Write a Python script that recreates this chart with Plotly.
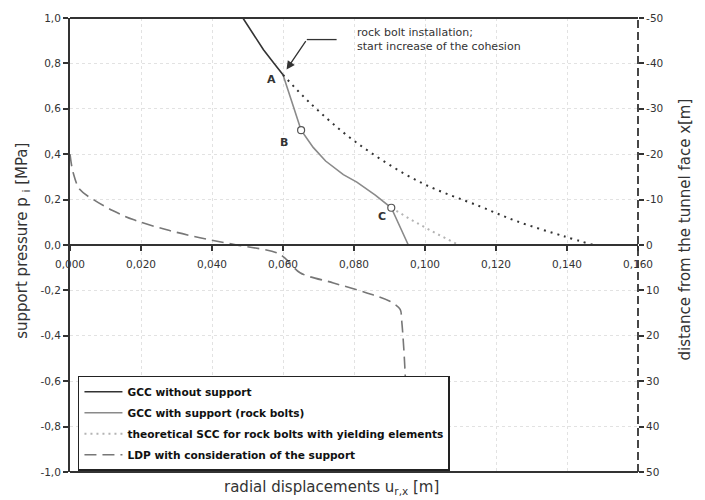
import plotly.graph_objects as go

# ---- data ----
gcc_free_u = [0.0487, 0.0515, 0.0545, 0.0575, 0.0600]
gcc_free_p = [1.00, 0.93, 0.86, 0.80, 0.75]

gcc_free_cont_u = [0.0600, 0.0676, 0.0808, 0.0986, 0.1155, 0.1258, 0.1390, 0.1475]
gcc_free_cont_p = [0.75, 0.626, 0.45, 0.277, 0.17, 0.105, 0.039, 0.0]

gcc_bolt_u = [0.0600, 0.0618, 0.0635, 0.0651, 0.0685, 0.0720, 0.0770, 0.0808, 0.0860, 0.0905, 0.0953]
gcc_bolt_p = [0.75, 0.66, 0.58, 0.506, 0.43, 0.37, 0.31, 0.277, 0.22, 0.164, 0.0]

scc_u = [0.0905, 0.0960, 0.1030, 0.1095]
scc_p = [0.164, 0.112, 0.052, 0.0]

ldp_u = [0.0000, 0.0009, 0.0028, 0.0066, 0.0120, 0.0178, 0.0270, 0.0366, 0.0470, 0.0582,
         0.0610, 0.0648, 0.0742, 0.0836, 0.0901, 0.0930, 0.0934, 0.0944, 0.0952]
ldp_x = [-20.0, -15.9, -12.2, -10.0, -7.6, -5.6, -3.4, -1.6, 0.0, 1.7,
         3.2, 6.1, 8.35, 10.55, 12.4, 14.2, 16.4, 28.2, 50.0]

pts_u = [0.0651, 0.0905]
pts_p = [0.506, 0.164]
pt_labels = ["A", "B", "C"]
pt_label_u = [0.0568, 0.0603, 0.0878]
pt_label_p = [0.729, 0.450, 0.124]

x_ticks = [0.0, 0.02, 0.04, 0.06, 0.08, 0.10, 0.12, 0.14, 0.16]
x_ticktext = ["0,000", "0,020", "0,040", "0,060", "0,080", "0,100", "0,120", "0,140", "0,160"]
y_ticks = [1.0, 0.8, 0.6, 0.4, 0.2, 0.0, -0.2, -0.4, -0.6, -0.8, -1.0]
y_ticktext = ["1,0", "0,8", "0,6", "0,4", "0,2", "0,0", "-0,2", "-0,4", "-0,6", "-0,8", "-1,0"]
y2_ticks = [-50, -40, -30, -20, -10, 0, 10, 20, 30, 40, 50]
y2_ticktext = ["-50", "-40", "-30", "-20", "-10", "0", "10", "20", "30", "40", "50"]

FONT = "DejaVu Sans"
DARK = "#333333"
GRID = "#e2e2e2"

fig = go.Figure()

fig.add_trace(go.Scatter(x=gcc_free_u, y=gcc_free_p, mode="lines",
                         line=dict(color=DARK, width=1.6), legendgroup="g1",
                         name="GCC without support"))
fig.add_trace(go.Scatter(x=gcc_bolt_u, y=gcc_bolt_p, mode="lines",
                         line=dict(color="#8a8a8a", width=1.6), legendgroup="g2",
                         name="GCC with support (rock bolts)"))
fig.add_trace(go.Scatter(x=scc_u, y=scc_p, mode="lines",
                         line=dict(color="#b4b4b4", width=2, dash="2px,4px"), legendgroup="g3",
                         name="theoretical SCC for rock bolts with yielding elements"))
fig.add_trace(go.Scatter(x=ldp_u, y=ldp_x, mode="lines", yaxis="y2",
                         line=dict(color="#777777", width=1.6, dash="12px,6px"),
                         line_shape="spline", legendgroup="g4",
                         name="LDP with consideration of the support"))
fig.add_trace(go.Scatter(x=gcc_free_cont_u, y=gcc_free_cont_p, mode="lines",
                         line=dict(color=DARK, width=2, dash="2px,5px"),
                         line_shape="spline", showlegend=False))
fig.add_trace(go.Scatter(x=pts_u, y=pts_p, mode="markers",
                         marker=dict(symbol="circle", size=7, color="white",
                                     line=dict(color="#555555", width=1.2)),
                         showlegend=False))

for lbl, u, p in zip(pt_labels, pt_label_u, pt_label_p):
    fig.add_annotation(x=u, y=p, text=f"<b>{lbl}</b>", showarrow=False,
                       font=dict(family=FONT, size=11, color=DARK))

# annotation text + arrow
fig.add_annotation(x=0.0803, y=0.975, text="rock bolt installation;<br>start increase of the cohesion",
                   showarrow=False, xanchor="left", yanchor="top", align="left",
                   font=dict(family=FONT, size=11, color=DARK))
fig.add_shape(type="line", x0=0.0751, y0=0.905, x1=0.0667, y1=0.905,
              line=dict(color=DARK, width=1.3))
fig.add_annotation(x=0.0610, y=0.773, ax=0.0667, ay=0.905, axref="x", ayref="y",
                   xref="x", yref="y", text="", showarrow=True,
                   arrowhead=2, arrowsize=1.3, arrowwidth=1.3, arrowcolor=DARK)

# frame lines
fig.add_shape(type="line", xref="paper", yref="paper", x0=0, x1=1, y0=1, y1=1,
              line=dict(color=DARK, width=2))
fig.add_shape(type="line", xref="paper", yref="paper", x0=0, x1=1, y0=0, y1=0,
              line=dict(color=DARK, width=2))
fig.add_shape(type="line", xref="paper", yref="paper", x0=1, x1=1, y0=0, y1=1,
              line=dict(color=DARK, width=1.8, dash="8px,4px"))

# axis titles
fig.add_annotation(xref="paper", yref="paper", x=-0.084, y=0.51, textangle=-90,
                   xanchor="center", yanchor="middle",
                   text="support pressure p <sub>i</sub> [MPa]", showarrow=False,
                   font=dict(family=FONT, size=15, color=DARK))
fig.add_annotation(xref="paper", yref="paper", x=1.0827, y=0.534, textangle=-90,
                   xanchor="center", yanchor="middle",
                   text="distance from the tunnel face x[m]", showarrow=False,
                   font=dict(family=FONT, size=15, color=DARK))
fig.add_annotation(xref="paper", yref="paper", x=0.46, y=-0.035, yanchor="middle",
                   text="radial displacements u<sub>r,x</sub> [m]", showarrow=False,
                   font=dict(family=FONT, size=15, color=DARK))

fig.update_layout(
    width=705, height=500,
    margin=dict(l=70, r=67, t=18, b=28, autoexpand=False),
    paper_bgcolor="white", plot_bgcolor="white",
    font=dict(family=FONT, size=10, color=DARK),
    showlegend=True,
    legend=dict(x=0.014, y=0.212, xanchor="left", yanchor="top",
                bgcolor="white", bordercolor="#222222", borderwidth=1.5,
                font=dict(family=FONT, size=10.6, color="#111111", weight="bold"),
                itemwidth=38, tracegroupgap=2, traceorder="grouped"),
    xaxis=dict(range=[0, 0.16], tickvals=x_ticks, ticktext=x_ticktext,
               anchor="free", position=0.5,
               showline=True, linecolor=DARK, linewidth=2,
               ticks="outside", ticklen=5, tickcolor=DARK, tickwidth=1.5,
               ticklabelstandoff=4,
               showgrid=True, gridcolor=GRID, griddash="3px,3px", gridwidth=1,
               zeroline=False, tickfont=dict(size=10.5, color=DARK)),
    yaxis=dict(range=[-1, 1], tickvals=y_ticks, ticktext=y_ticktext,
               showline=True, linecolor=DARK, linewidth=2,
               ticks="outside", ticklen=5, tickcolor=DARK, tickwidth=1.5,
               showgrid=True, gridcolor=GRID, griddash="3px,3px", gridwidth=1,
               zeroline=False, tickfont=dict(size=10.5, color=DARK)),
    yaxis2=dict(range=[50, -50], tickvals=y2_ticks, ticktext=y2_ticktext,
                overlaying="y", side="right",
                showline=False, ticks="outside", ticklen=5, tickcolor=DARK, tickwidth=1.5,
                showgrid=False, zeroline=False, tickfont=dict(size=10.5, color=DARK)),
)

fig.write_html("out.html", config={"displayModeBar": False},
               post_script="document.body.style.margin='0';")
